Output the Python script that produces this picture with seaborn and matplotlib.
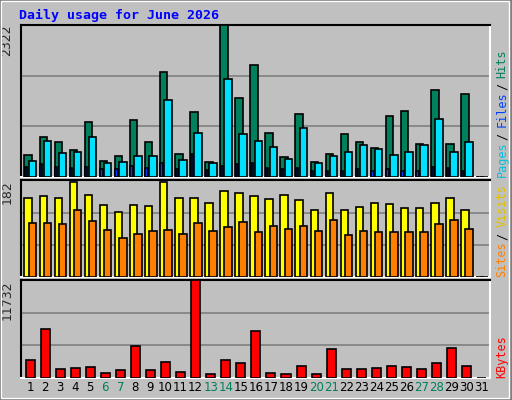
import numpy as np
import pandas as pd
import seaborn as sns
import matplotlib.pyplot as plt
from matplotlib.patches import Rectangle

days = list(range(1, 32))
hits = [343, 608, 530, 421, 841, 249, 327, 873, 530, 1605, 358, 997, 234, 2322, 1215,
        1714, 670, 312, 966, 234, 358, 654, 530, 452, 935, 1013, 499, 1340, 499, 1278, 0]
files = [156, 203, 156, 140, 156, 125, 125, 171, 140, 218, 125, 358, 109, 171, 203,
         218, 140, 125, 140, 93, 93, 93, 125, 93, 125, 93, 93, 156, 140, 93, 0]
pages = [249, 545, 374, 390, 608, 218, 234, 327, 327, 1184, 265, 670, 218, 1496, 654,
         545, 467, 280, 748, 218, 327, 390, 483, 436, 343, 390, 483, 888, 390, 530, 0]
visits = [149, 153, 149, 178, 155, 136, 123, 136, 134, 178, 148, 149, 140, 161, 159,
          153, 146, 155, 144, 126, 159, 126, 132, 140, 138, 130, 130, 140, 148, 126, 0]
sites = [102, 102, 100, 126, 105, 88, 73, 80, 86, 88, 80, 102, 86, 94, 103,
         84, 96, 90, 96, 86, 107, 79, 86, 84, 84, 84, 84, 100, 107, 90, 0]
kbytes = [2191, 5930, 1031, 1160, 1289, 645, 902, 3867, 902, 1934, 773, 11732, 516, 2191, 1805,
          5672, 645, 516, 1418, 516, 3480, 1031, 1031, 1160, 1418, 1289, 1031, 1805, 3609, 1418, 0]
weekends = [6, 7, 13, 14, 20, 21, 27, 28]

BG = "#c0c0c0"
sns.set_style("white")
plt.rcParams["font.family"] = ["DejaVu Sans Mono", "DejaVu Sans"]

fig = plt.figure(figsize=(5.12, 4.0), dpi=100, facecolor=BG)
W, H = 512, 400


def axes_px(l, t, r, b):
    return fig.add_axes([l / W, 1 - b / H, (r - l) / W, (b - t) / H], facecolor=BG)


def draw(ax, series, ymax):
    for vals, off, w, col in series:
        df = pd.DataFrame({"x": [d + off for d in days], "y": vals})
        sns.barplot(data=df, x="x", y="y", native_scale=True, width=w, color=col,
                    edgecolor="black", linewidth=1.2, saturation=1, ax=ax, zorder=3)
    ax.set_xlim(0.4, 31.55)
    ax.set_ylim(0, ymax * 1.003)
    for f in (1 / 3, 2 / 3):
        ax.axhline(ymax * f, color="#808080", lw=1.2, zorder=1)
    ax.set_xticks([]); ax.set_yticks([])
    ax.set_xlabel(""); ax.set_ylabel("")
    for s in ("top", "left"):
        ax.spines[s].set_color("black"); ax.spines[s].set_linewidth(1.5)
    for s in ("bottom", "right"):
        ax.spines[s].set_color("white"); ax.spines[s].set_linewidth(1.5)
    ax.text(-0.03, 1.0, f"{ymax}", transform=ax.transAxes, rotation=90,
            ha="center", va="top", fontsize=9, family="DejaVu Sans")


ax1 = axes_px(21, 25, 490, 177)
draw(ax1, [(hits, -0.12, 0.5, "#00805c"), (files, -0.26, 0.15, "#0040ff"),
           (pages, 0.16, 0.5, "#00e0ff")], 2322)
ax2 = axes_px(21, 180, 490, 277)
draw(ax2, [(visits, -0.12, 0.5, "#ffff00"), (sites, 0.16, 0.5, "#ff8000")], 182)
ax3 = axes_px(21, 280, 490, 378)
draw(ax3, [(kbytes, 0.0, 0.6, "#ff0000")], 11732)

# x tick labels
for d in days:
    ax3.text(d, -0.1, str(d), transform=ax3.get_xaxis_transform(), ha="center", va="center",
             fontsize=8.5, family="DejaVu Sans",
             color="#00805c" if d in weekends else "black")

# right-side legends
def legend(ax, parts, x=1.025):
    y = 0.0
    for txt, col in parts:
        t = ax.text(x, y, txt, transform=ax.transAxes, rotation=90, ha="center",
                    va="bottom", fontsize=8.5, color=col)
        y += len(txt) * 0.0 + 0
    return

def stacked(ax, parts):
    s = " / ".join(p for p, _ in parts)
    # draw each part at its character offset
    n = len(s)
    h = ax.get_position().height * H
    cw = 6.2 / h
    pos = 0
    for i, (p, col) in enumerate(parts):
        ax.text(1.026, pos * cw, p, transform=ax.transAxes, rotation=90, ha="center",
                va="bottom", fontsize=8.5, color=col)
        pos += len(p)
        if i < len(parts) - 1:
            ax.text(1.026, (pos + 1) * cw, "/", transform=ax.transAxes, rotation=90,
                    ha="center", va="bottom", fontsize=8.5, color="black")
            pos += 3

stacked(ax1, [("Pages", "#00c0e0"), ("Files", "#0040ff"), ("Hits", "#00805c")])
stacked(ax2, [("Sites", "#ff8000"), ("Visits", "#e0c000")])
stacked(ax3, [("KBytes", "#ff0000")])

fig.text(19 / W, 1 - 15 / H, "Daily usage for June 2026", color="#0000ff", fontsize=9.5,
         fontweight="bold", va="center", ha="left")

# outer 3D border
fig.patches.append(Rectangle((0, 0), 1, 1, transform=fig.transFigure, fill=False,
                             edgecolor="#808080", lw=3))
fig.patches.append(Rectangle((0.002, 0.006), 0.993, 0.992, transform=fig.transFigure,
                             fill=False, edgecolor="white", lw=1))

fig.savefig("out.png", dpi=100, facecolor=BG)
